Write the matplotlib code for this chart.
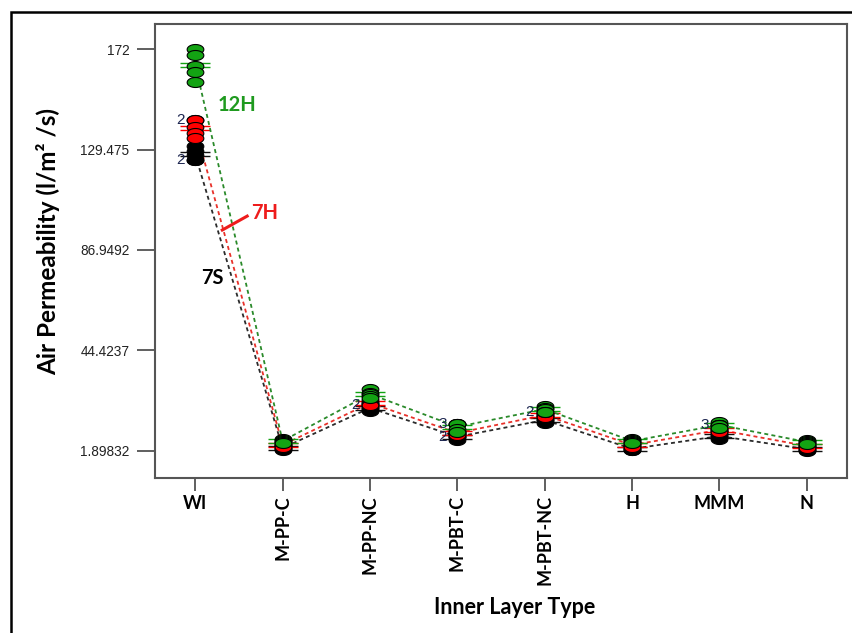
"""Air permeability by inner layer type: individual values + means, three fabrics."""

import numpy as np
import matplotlib
matplotlib.use("Agg")
import matplotlib.pyplot as plt
from matplotlib.path import Path
from matplotlib.patches import Rectangle

# ------------------------------------------------------------------ data

categories = ["WI", "M-PP-C", "M-PP-NC", "M-PBT-C", "M-PBT-NC", "H", "MMM", "N"]

# five replicates per layer type
vals_7s = [
    [131.0, 129.0, 127.2, 125.1, 125.1],
    [3.8, 3.4, 3.0, 2.6, 2.2],
    [21.5, 20.6, 20.0, 19.4, 18.6],
    [8.8, 8.2, 7.7, 7.7, 6.6],
    [16.0, 15.4, 14.9, 14.4, 13.8],
    [3.5, 3.0, 2.6, 2.3, 2.0],
    [9.4, 8.7, 8.1, 7.5, 6.8],
    [3.4, 2.9, 2.4, 2.0, 1.89832],
]
vals_7h = [
    [142.0, 142.0, 139.2, 136.4, 134.3],
    [5.0, 4.6, 4.3, 4.0, 3.6],
    [23.2, 22.6, 22.1, 21.3, 21.3],
    [10.4, 9.8, 9.4, 9.0, 8.4],
    [18.0, 17.5, 17.0, 16.5, 16.0],
    [5.0, 4.6, 4.3, 4.0, 3.6],
    [11.6, 11.1, 10.7, 10.3, 9.8],
    [4.6, 4.2, 3.9, 3.6, 3.2],
]
vals_12h = [
    [172.0, 169.5, 165.0, 162.5, 158.2],
    [6.8, 6.4, 6.0, 5.6, 5.2],
    [28.0, 26.5, 25.9, 25.0, 24.1],
    [13.0, 13.0, 13.0, 11.0, 10.0],
    [21.0, 20.2, 19.6, 18.4, 18.4],
    [6.8, 6.4, 6.0, 5.6, 5.2],
    [14.2, 12.8, 12.8, 12.8, 11.4],
    [6.3, 5.9, 5.6, 5.3, 4.9],
]

series_names = ["7S", "7H", "12H"]
series_vals = [vals_7s, vals_7h, vals_12h]

# ------------------------------------------------------------------ style

fill_colors = ["#000000", "#ff0000", "#13a313"]
line_colors = ["#2b2b2b", "#e8312a", "#2a8a2a"]

t = np.linspace(0, 2 * np.pi, 60)
ellipse = Path(np.column_stack([np.cos(t), 0.6 * np.sin(t)]), closed=True)
mean_bar = Path([(-1, 0.13), (1, 0.13), (-1, -0.13), (1, -0.13)],
                [Path.MOVETO, Path.LINETO, Path.MOVETO, Path.LINETO])

fig = plt.figure(figsize=(8.53, 6.33), dpi=100)
ax = fig.add_axes([155 / 853, 1 - 478 / 633, 692 / 853, 454 / 633])

# marco exterior (solo se ven arriba y a la izquierda)
fig.add_artist(Rectangle((11 / 853, -0.2), 1.2, 1.2 - 12 / 633,
                         transform=fig.transFigure, fill=False,
                         edgecolor="black", lw=1.8, clip_on=False))

x = np.arange(len(categories))
for k, (name, vals) in enumerate(zip(series_names, series_vals)):
    means = [np.mean(v) for v in vals]
    ax.plot(x, means, linestyle=(0, (2.2, 1.8)), lw=1.3, color=line_colors[k], zorder=2 + k)
    ax.plot(x, means, linestyle="none", marker=mean_bar, markersize=22,
            markeredgecolor=fill_colors[k] if k else "#111111", mew=1.0, zorder=3 + k)
    for i, v in enumerate(vals):
        ax.plot(np.full(len(v), x[i]), v, linestyle="none", marker=ellipse,
                markersize=12, markerfacecolor=fill_colors[k],
                markeredgecolor="black", mew=0.8, zorder=4 + k)
        # etiqueta de valores repetidos
        uniq, cnt = np.unique(v, return_counts=True)
        for u, c in zip(uniq, cnt):
            if c > 1:
                ax.text(x[i] - 0.12, u, str(c), ha="right", va="center",
                        fontsize=11, color="#1c2550", family="Liberation Sans",
                        zorder=10)

# rótulos de las series
ax.text(0.48, 148.4, "12H", color="#1f9a1f", fontsize=14.5, fontweight="bold",
        family="Lato", ha="center", va="center")
ax.text(0.80, 102.6, "7H", color="#ee1c1c", fontsize=14.5, fontweight="bold",
        family="Lato", ha="center", va="center")
ax.text(0.20, 75.1, "7S", color="black", fontsize=14.5, fontweight="bold",
        family="Lato", ha="center", va="center")
ax.plot([0.31, 0.595], [95.4, 101.3], color="#ee1c1c", lw=2.2, zorder=8)

# ejes
ymin, ymax = 1.89832, 172.0
yt = np.linspace(ymin, ymax, 5)
ax.set_ylim(-9.67, 182.7)
ax.set_xlim(-0.46, 7.46)
ax.set_yticks(yt)
ax.set_yticklabels([f"{v:.6g}" for v in yt], family="Liberation Sans", fontsize=9.8,
                   color="#222222")
ax.set_xticks(x)
ax.set_xticklabels(categories, family="Lato", fontweight="bold", fontsize=13)
for lab in ax.get_xticklabels():
    if "-" in lab.get_text():
        lab.set_rotation(90)

ax.tick_params(axis="y", length=13, width=1.2, color="#444444", pad=5.5)
ax.tick_params(axis="x", length=9, width=1.2, color="#444444", pad=3.5)
for sp in ax.spines.values():
    sp.set_color("#555555")
    sp.set_linewidth(1.5)

ax.set_xlabel("Inner Layer Type", family="Lato", fontweight="bold", fontsize=15.5)
ax.xaxis.set_label_coords(0.52, -0.262)
ax.set_ylabel("Air Permeability (l/m² /s)", family="Lato", fontweight="bold", fontsize=17.5)
ax.yaxis.set_label_coords(-0.137, 0.52)

fig.savefig("out.png", dpi=100)
